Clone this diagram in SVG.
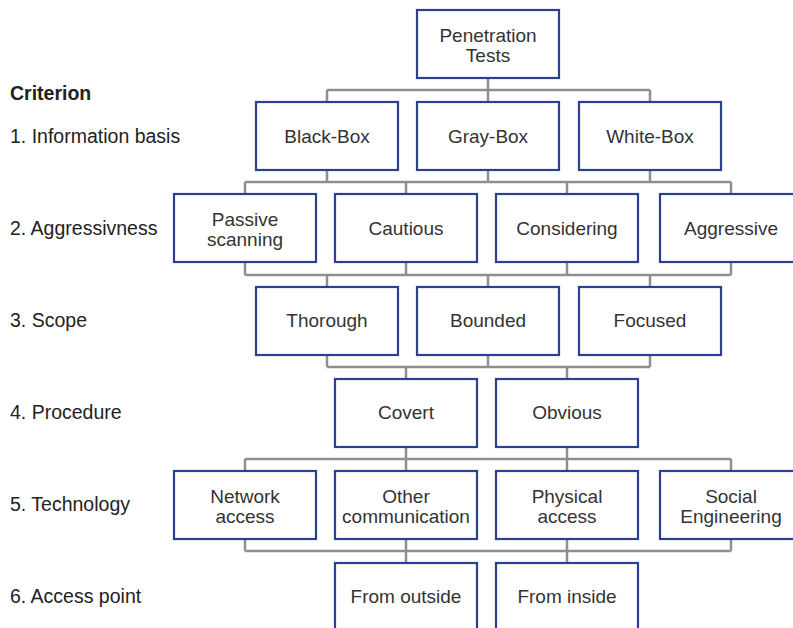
<svg xmlns="http://www.w3.org/2000/svg" width="793" height="628" viewBox="0 0 793 628">
<style>
  .box { fill: #ffffff; stroke: #2b4190; stroke-width: 2.2; }
  .t { font-family: "Liberation Sans", Arial, sans-serif; font-size: 19px; fill: #333333; text-anchor: middle; }
  .lbl { font-family: "Liberation Sans", Arial, sans-serif; font-size: 19.5px; fill: #222222; }
  .bold { font-weight: bold; }
  .c { fill: none; stroke: #8f8f8f; stroke-width: 2.5; }
</style>
<rect width="793" height="628" fill="#ffffff"/>

<g id="criteria">
  <text class="lbl bold" x="10" y="100">Criterion</text>
  <text class="lbl" x="10" y="142.5">1. Information basis</text>
  <text class="lbl" x="10" y="234.5">2. Aggressivness</text>
  <text class="lbl" x="10" y="327">3. Scope</text>
  <text class="lbl" x="10" y="419">4. Procedure</text>
  <text class="lbl" x="10" y="511">5. Technology</text>
  <text class="lbl" x="10" y="603">6. Access point</text>
</g>

<g id="connectors">
  <path class="c" d="M488 78 V102 M327 90 H650 M327 90 V102 M650 90 V102"/>
  <path class="c" d="M327 170 V182 M488 170 V182 M650 170 V182 M245 182 H731 M245 182 V194 M406 182 V194 M567 182 V194 M731 182 V194"/>
  <path class="c" d="M245 262 V275 M406 262 V275 M567 262 V275 M731 262 V275 M245 275 H731 M327 275 V287 M488 275 V287 M650 275 V287"/>
  <path class="c" d="M327 355 V367 M488 355 V367 M650 355 V367 M327 367 H650 M406 367 V379 M567 367 V379"/>
  <path class="c" d="M406 447 V459 M567 447 V459 M245 459 H731 M245 459 V471 M406 459 V471 M567 459 V471 M731 459 V471"/>
  <path class="c" d="M245 539 V551 M406 539 V551 M567 539 V551 M731 539 V551 M245 551 H731 M406 551 V563 M567 551 V563"/>
</g>

<g id="n-root">
  <rect class="box" x="417" y="10" width="142" height="68"/>
  <text class="t" x="488" y="42">Penetration</text>
  <text class="t" x="488" y="62">Tests</text>
</g>

<g id="n-blackbox">
  <rect class="box" x="256" y="102" width="142" height="68"/>
  <text class="t" x="327" y="142.5">Black-Box</text>
</g>
<g id="n-graybox">
  <rect class="box" x="417" y="102" width="142" height="68"/>
  <text class="t" x="488" y="142.5">Gray-Box</text>
</g>
<g id="n-whitebox">
  <rect class="box" x="579" y="102" width="142" height="68"/>
  <text class="t" x="650" y="142.5">White-Box</text>
</g>

<g id="n-passive">
  <rect class="box" x="174" y="194" width="142" height="68"/>
  <text class="t" x="245" y="226">Passive</text>
  <text class="t" x="245" y="246">scanning</text>
</g>
<g id="n-cautious">
  <rect class="box" x="335" y="194" width="142" height="68"/>
  <text class="t" x="406" y="234.5">Cautious</text>
</g>
<g id="n-considering">
  <rect class="box" x="496" y="194" width="142" height="68"/>
  <text class="t" x="567" y="234.5">Considering</text>
</g>
<g id="n-aggressive">
  <rect class="box" x="660" y="194" width="142" height="68"/>
  <text class="t" x="731" y="234.5">Aggressive</text>
</g>

<g id="n-thorough">
  <rect class="box" x="256" y="287" width="142" height="68"/>
  <text class="t" x="327" y="327">Thorough</text>
</g>
<g id="n-bounded">
  <rect class="box" x="417" y="287" width="142" height="68"/>
  <text class="t" x="488" y="327">Bounded</text>
</g>
<g id="n-focused">
  <rect class="box" x="579" y="287" width="142" height="68"/>
  <text class="t" x="650" y="327">Focused</text>
</g>

<g id="n-covert">
  <rect class="box" x="335" y="379" width="142" height="68"/>
  <text class="t" x="406" y="419">Covert</text>
</g>
<g id="n-obvious">
  <rect class="box" x="496" y="379" width="142" height="68"/>
  <text class="t" x="567" y="419">Obvious</text>
</g>

<g id="n-network">
  <rect class="box" x="174" y="471" width="142" height="68"/>
  <text class="t" x="245" y="503">Network</text>
  <text class="t" x="245" y="523">access</text>
</g>
<g id="n-othercomm">
  <rect class="box" x="335" y="471" width="142" height="68"/>
  <text class="t" x="406" y="503">Other</text>
  <text class="t" x="406" y="523">communication</text>
</g>
<g id="n-physical">
  <rect class="box" x="496" y="471" width="142" height="68"/>
  <text class="t" x="567" y="503">Physical</text>
  <text class="t" x="567" y="523">access</text>
</g>
<g id="n-social">
  <rect class="box" x="660" y="471" width="142" height="68"/>
  <text class="t" x="731" y="503">Social</text>
  <text class="t" x="731" y="523">Engineering</text>
</g>

<g id="n-outside">
  <rect class="box" x="335" y="563" width="142" height="68"/>
  <text class="t" x="406" y="603">From outside</text>
</g>
<g id="n-inside">
  <rect class="box" x="496" y="563" width="142" height="68"/>
  <text class="t" x="567" y="603">From inside</text>
</g>
</svg>
